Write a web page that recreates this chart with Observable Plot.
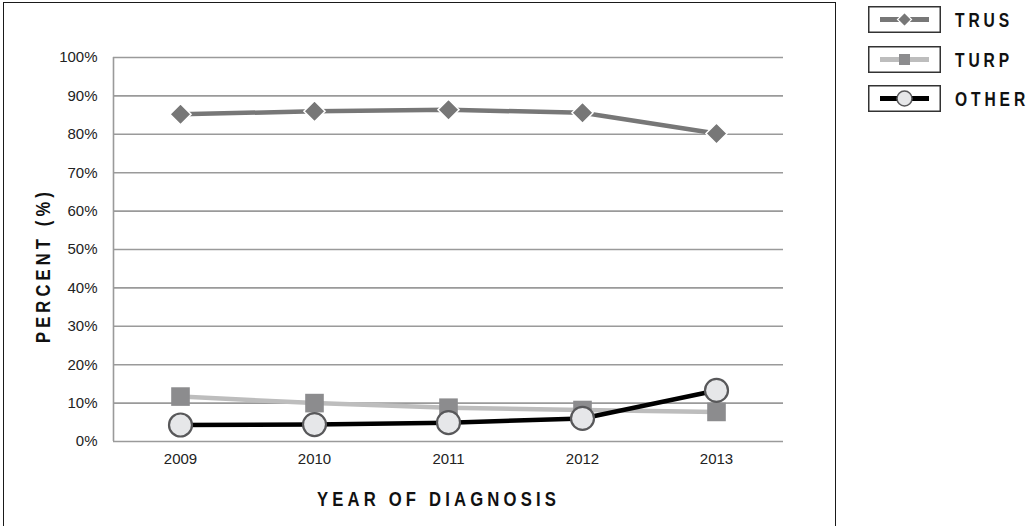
<!DOCTYPE html>
<html>
<head>
<meta charset="utf-8">
<script src="https://cdn.jsdelivr.net/npm/d3@7"></script>
<script src="https://cdn.jsdelivr.net/npm/@observablehq/plot@0.6"></script>
<style>
  body { margin: 0; background: #fff; }
  #wrap { position: relative; width: 1032px; height: 526px; overflow: hidden; font-family: "Liberation Sans", Arial, sans-serif; }
  #frame { position: absolute; left: 3px; top: 2px; width: 833px; height: 560px; border: 1.5px solid #1a1a1a; box-sizing: border-box; }
  #chart { position: absolute; left: 0; top: 0; }
  .leg { position: absolute; left: 868px; }
</style>
</head>
<body>
<div id="wrap">
  <div id="frame"></div>
  <div id="chart"></div>
  <div id="legend"></div>
</div>
<script>
// valores (porcentaje)
const years = [2009, 2010, 2011, 2012, 2013]
const trus = [85.2, 86.0, 86.4, 85.6, 80.2]
const turp = [11.7, 10.0, 8.8, 8.2, 7.7]
const other = [4.3, 4.4, 4.9, 6.0, 13.3]
const yTicks = [0, 10, 20, 30, 40, 50, 60, 70, 80, 90, 100]
const xDomain = [2008.5, 2013.5]
const seriesNames = ["TRUS", "TURP", "OTHER"]

const rows = vals => years.map((year, i) => ({ year, value: vals[i] }))
const trusRows = rows(trus)
const turpRows = rows(turp)
const otherRows = rows(other)

const titleFont = "Liberation Sans, Arial, sans-serif"

let chart = Plot.plot({
  width: 836,
  height: 526,
  marginLeft: 113,
  marginRight: 53,
  marginTop: 57,
  marginBottom: 85,
  style: { fontFamily: "Liberation Sans, Arial, sans-serif", fontSize: "15px", color: "#222", background: "transparent", overflow: "visible" },
  x: { domain: xDomain },
  y: { domain: [0, 100] },
  marks: [
    Plot.gridY(yTicks, { stroke: "#9a9a9a", strokeOpacity: 1, strokeWidth: 1.6 }),
    Plot.ruleX([xDomain[0]], { y1: 0, y2: 100, stroke: "#9a9a9a", strokeWidth: 1.6 }),
    Plot.axisY(yTicks, { tickSize: 0, tickPadding: 16, tickFormat: d => d + "%", label: null }),
    Plot.axisX(years, { tickSize: 0, tickPadding: 12, tickFormat: d => String(d), label: null }),
    Plot.text(["PERCENT (%)"], { frameAnchor: "left", textAnchor: "middle", lineAnchor: "middle", rotate: -90, dx: -70, dy: 16, fontFamily: titleFont, fontWeight: "bold", fontSize: 20, fill: "#111" }),
    Plot.text(["YEAR OF DIAGNOSIS"], { frameAnchor: "bottom", textAnchor: "middle", lineAnchor: "middle", dx: -10, dy: 58, fontFamily: titleFont, fontWeight: "bold", fontSize: 20, fill: "#111" }),
    // TRUS
    Plot.line(trusRows, { x: "year", y: "value", stroke: "#777", strokeWidth: 4.5 }),
    Plot.dot(trusRows, { x: "year", y: "value", symbol: "diamond2", r: 9.5, fill: "#777", stroke: "#fff", strokeWidth: 1.5 }),
    // TURP
    Plot.line(turpRows, { x: "year", y: "value", stroke: "#bdbdbd", strokeWidth: 4.5 }),
    Plot.dot(turpRows, { x: "year", y: "value", symbol: "square", r: 10.5, fill: "#8c8c8e" }),
    // OTHER
    Plot.line(otherRows, { x: "year", y: "value", stroke: "#000", strokeWidth: 4.5 }),
    Plot.dot(otherRows, { x: "year", y: "value", symbol: "circle", r: 11.5, fill: "#e6e7e9", stroke: "#58585a", strokeWidth: 2.2 })
  ]
})

// títulos condensados con espaciado, ajustados al ancho del original
const titleWidths = { "PERCENT (%)": 155, "YEAR OF DIAGNOSIS": 243 }
d3.select(chart).selectAll("text")
  .filter(function () { return titleWidths[this.textContent] })
  .style("letter-spacing", "5px")
  .attr("textLength", function () { return titleWidths[this.textContent] })
  .attr("lengthAdjust", "spacingAndGlyphs")

d3.select("#chart").append(() => chart)

// leyenda
const icons = {
  TRUS: '<line x1="12" x2="61" y1="13.5" y2="13.5" stroke="#777" stroke-width="5"/><path d="M36.5,6.5 L43.5,13.5 L36.5,20.5 L29.5,13.5 Z" fill="#777" stroke="#fff" stroke-width="1.2"/>',
  TURP: '<line x1="12" x2="61" y1="13.5" y2="13.5" stroke="#bdbdbd" stroke-width="5"/><rect x="31" y="8" width="11" height="11" fill="#8c8c8e"/>',
  OTHER: '<line x1="12" x2="61" y1="13.5" y2="13.5" stroke="#000" stroke-width="5"/><circle cx="36.5" cy="13.5" r="7.5" fill="#e6e7e9" stroke="#58585a" stroke-width="1.5"/>'
}
const legTops = [6, 46, 85]
d3.select("#legend").selectAll("div")
  .data(seriesNames)
  .join("div")
  .attr("class", "leg")
  .style("top", (d, i) => legTops[i] + "px")
  .html(d => `<svg width="164" height="28">
      <rect x="0.75" y="0.75" width="71.5" height="25.5" fill="#fff" stroke="#333" stroke-width="1.5"/>
      ${icons[d]}
      <g transform="translate(87,14) scale(0.78,1)">
        <text x="0" y="0" dy="0.36em" font-family="Liberation Sans, Arial, sans-serif" font-weight="bold" font-size="20" fill="#111"
          style="letter-spacing:5px">${d}</text>
      </g>
    </svg>`)
</script>
</body>
</html>
